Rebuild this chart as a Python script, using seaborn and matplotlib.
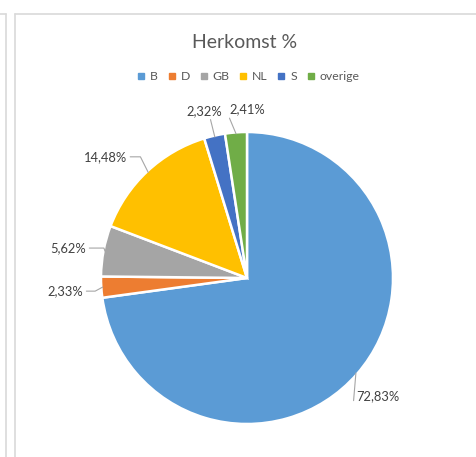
import numpy as np
import matplotlib
matplotlib.use("Agg")
import matplotlib.pyplot as plt
from matplotlib.lines import Line2D
import seaborn as sns

# data
categories = ["B", "D", "GB", "NL", "S", "overige"]
values = [72.83, 2.33, 5.62, 14.48, 2.32, 2.41]
labels = ["72,83%", "2,33%", "5,62%", "14,48%", "2,32%", "2,41%"]
title = "Herkomst %"

colors = ["#5B9BD5", "#ED7D31", "#A5A5A5", "#FFC000", "#4472C4", "#70AD47"]

sns.set_theme(style="white")
plt.rcParams["font.family"] = ["Lato", "DejaVu Sans"]

W, H = 477, 457
fig = plt.figure(figsize=(W / 100, H / 100), dpi=100)

# pie axes: center (247, 278) px, radius 146 px
cx, cy, r = 247, 278, 146
ax = fig.add_axes([(cx - r) / W, (H - cy - r) / H, 2 * r / W, 2 * r / H])
wedges, _ = ax.pie(values, colors=colors, startangle=90, counterclock=False,
                   radius=1.0, wedgeprops=dict(edgecolor="white", linewidth=1.8))
ax.set_xlim(-1, 1)
ax.set_ylim(-1, 1)
ax.set_aspect("equal")
ax.axis("off")

# label layout: (text x, text y, ha, va, elbow x or None) in radius units
layout = [
    (0.75, -0.81, "left", "center", None),
    (-1.12, -0.09, "right", "center", -1.04),
    (-1.10, 0.205, "right", "center", -0.98),
    (-0.82, 0.83, "right", "center", -0.73),
    (-0.29, 1.145, "center", "center", None),
    (0.0, 1.155, "center", "center", None),
]
lc = "#A6A6A6"
for w, lab, (tx, ty, ha, va, ex) in zip(wedges, labels, layout):
    mid = np.deg2rad((w.theta1 + w.theta2) / 2)
    px, py = 0.99 * np.cos(mid), 0.99 * np.sin(mid)
    ax.text(tx, ty, lab, ha=ha, va=va, fontsize=9.3, color="#404040", clip_on=False)
    if ex is not None:
        xs = [tx + 0.02, ex, px]
        ys = [ty, ty, py]
    elif ha == "left":
        xs = [tx - 0.02, px]
        ys = [ty - 0.03, py]
    else:
        xs = [tx + (-0.12 if tx > -0.1 else 0.04), px]
        ys = [ty - 0.06, py]
    ax.add_line(Line2D(xs, ys, color=lc, lw=0.8, clip_on=False))

# title
fig.text(245 / W, 1 - 42 / H, title, ha="center", va="center", fontsize=14, color="#595959")

# legend
handles = [Line2D([], [], marker="s", linestyle="none", markersize=3.8,
                  markerfacecolor=c, markeredgecolor=c) for c in colors]
fig.legend(handles, categories, loc="center", bbox_to_anchor=(248 / W, 1 - 77 / H),
           ncol=6, frameon=False, fontsize=8.8, handletextpad=0.35, columnspacing=0.7,
           handlelength=0.8, labelcolor="#595959")

# spreadsheet grid lines
gc = "#D9D9D9"
def fl(x0, y0, x1, y1):
    fig.add_artist(Line2D([x0 / W, x1 / W], [1 - y0 / H, 1 - y1 / H], color=gc, lw=1.2,
                          transform=fig.transFigure))
fl(6.5, 14, 6.5, H)
fl(15.5, 14, 15.5, H)
fl(0, 14, 6.5, 14)
fl(15.5, 14, W, 14)

fig.savefig("out.png", dpi=100, facecolor="white")
